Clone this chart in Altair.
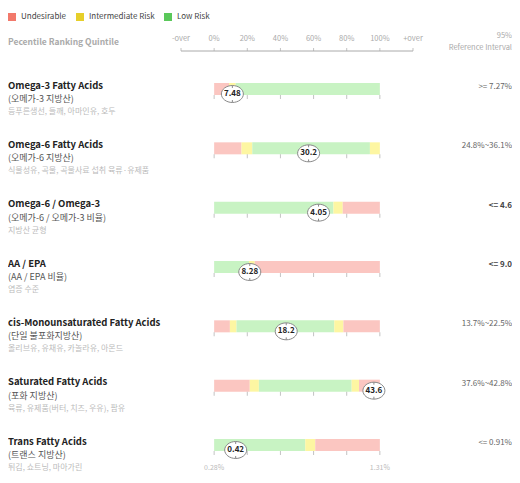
import altair as alt
import pandas as pd

FONT = "Noto Sans CJK KR"

# ---- data ----
names = ["Omega-3 Fatty Acids", "Omega-6 Fatty Acids", "Omega-6 / Omega-3", "AA / EPA",
         "cis-Monounsaturated Fatty Acids", "Saturated Fatty Acids", "Trans Fatty Acids"]
korean = ["(오메가-3 지방산)", "(오메가-6 지방산)", "(오메가-6 / 오메가-3 비율)", "(AA / EPA 비율)",
          "(단일 불포화지방산)", "(포화 지방산)", "(트랜스 지방산)"]
foods = ["등푸른생선, 들깨, 아마인유, 호두", "식물성유, 곡물, 곡물사료 섭취 육류·유제품", "지방산 균형",
         "염증 수준", "올리브유, 유채유, 카놀라유, 아몬드", "육류, 유제품(버터, 치즈, 우유), 팜유",
         "튀김, 쇼트닝, 마아가린"]
ref_interval = [">= 7.27%", "24.8%~36.1%", "<= 4.6", "<= 9.0", "13.7%~22.5%", "37.6%~42.8%", "<= 0.91%"]
ref_bold = [False, False, True, True, False, False, False]
value_labels = ["7.48", "30.2", "4.05", "8.28", "18.2", "43.6", "0.42"]
marker_pct = [11, 57, 63, 21.5, 43.5, 96.4, 13]

zones = ["Undesirable", "Intermediate Risk", "Low Risk"]
legend_colors = ["#f2796b", "#e6cf2a", "#5ac85a"]
bar_colors = ["#fbc6c1", "#fdf6a2", "#c8f3c3"]

# segment boundaries (percentile) and zone for each row
seg_bounds = [[0, 9, 13, 100],
              [0, 16.5, 23, 94, 100],
              [0, 72, 77.6, 100],
              [0, 21, 24.5, 100],
              [0, 9.5, 13.5, 72.5, 78, 100],
              [0, 21.5, 27, 83, 87.4, 100],
              [0, 55, 61, 100]]
seg_zones = [["Undesirable", "Intermediate Risk", "Low Risk"],
             ["Undesirable", "Intermediate Risk", "Low Risk", "Intermediate Risk"],
             ["Low Risk", "Intermediate Risk", "Undesirable"],
             ["Low Risk", "Intermediate Risk", "Undesirable"],
             ["Undesirable", "Intermediate Risk", "Low Risk", "Intermediate Risk", "Undesirable"],
             ["Undesirable", "Intermediate Risk", "Low Risk", "Intermediate Risk", "Undesirable"],
             ["Low Risk", "Intermediate Risk", "Undesirable"]]

axis_values = [-20, 0, 20, 40, 60, 80, 100, 120]
axis_labels = ["-over", "0%", "20%", "40%", "60%", "80%", "100%", "+over"]
row_ticks = [0, 20, 40, 60, 80, 100]
range_labels = ["0.28%", "1.31%"]
range_label_pct = [0, 100]

# ---- tables ----
seg_rows = []
for r, (b, z) in enumerate(zip(seg_bounds, seg_zones)):
    for i, zone in enumerate(z):
        seg_rows.append({"row": r, "start": b[i], "end": b[i + 1], "zone": zone})
segs = pd.DataFrame(seg_rows)
legend_df = pd.DataFrame({"risk": zones, "row": [0] * len(zones), "pct": [2] * len(zones)})

rows = pd.DataFrame({"row": list(range(len(names))), "name": names, "korean": korean,
                     "food": foods, "ref": ref_interval, "bold": ref_bold,
                     "val": value_labels, "pct": marker_pct})
ticks = pd.DataFrame([{"row": r, "pct": p} for r in range(len(names)) for p in row_ticks])
rng = pd.DataFrame({"row": [len(names) - 1] * 2, "pct": range_label_pct, "label": range_labels})
axis_df = pd.DataFrame({"v": axis_values, "label": axis_labels})
axis_line = pd.DataFrame({"a": [axis_values[0]], "b": [axis_values[-1]]})

X = alt.Scale(domain=[-20, 120], range=[173, 405], padding=0)
Y = alt.Scale(domain=[0, 6], range=[39, 395], padding=0)
y_enc = alt.Y("row:Q", scale=Y, axis=None)

# legend carrier (drawn first, hidden beneath the bars)
legend_layer = alt.Chart(legend_df).mark_square(size=20, opacity=1).encode(
    x=alt.X("pct:Q", scale=X, axis=None),
    y=y_enc,
    color=alt.Color("risk:N", scale=alt.Scale(domain=zones, range=legend_colors),
                    legend=alt.Legend(orient="none", legendX=-1, legendY=-38, direction="horizontal",
                                      title=None, symbolSize=64, symbolOpacity=1, labelFontSize=8,
                                      labelColor="#444", columnPadding=8, labelOffset=4)),
)

bars = alt.Chart(segs).mark_bar(orient="horizontal", size=12).encode(
    x=alt.X("start:Q", scale=X, axis=None),
    x2=alt.X2("end:Q"),
    y=y_enc,
    fill=alt.Fill("zone:N", scale=alt.Scale(domain=zones, range=bar_colors), legend=None),
)

# top percentile scale
top_rule = alt.Chart(axis_line).mark_rule(color="#aaa", strokeWidth=1).encode(
    x=alt.X("a:Q", scale=X, axis=None), x2=alt.X2("b:Q"), y=alt.value(1))
top_ticks = alt.Chart(axis_df).mark_tick(orient="vertical", size=3, thickness=1, color="#aaa").encode(
    x=alt.X("v:Q", scale=X, axis=None), y=alt.value(-0.5))
top_labels = alt.Chart(axis_df).mark_text(baseline="middle", fontSize=7.5, color="#aaa").encode(
    x=alt.X("v:Q", scale=X, axis=None), y=alt.value(-11), text="label:N")

tick_layer = alt.Chart(ticks).mark_tick(orient="vertical", size=4, thickness=1, yOffset=8,
                                        color="#aaa").encode(
    x=alt.X("pct:Q", scale=X, axis=None), y=y_enc)

ellipse = "M-1,0A1,0.77,0,1,1,1,0A1,0.77,0,1,1,-1,0Z M0,-0.77L0,-0.55 M0,0.77L0,0.55"
markers = alt.Chart(rows).mark_point(shape=ellipse, size=484, filled=True, fill="white",
                                     stroke="#888", strokeWidth=1, opacity=1, yOffset=5).encode(
    x=alt.X("pct:Q", scale=X, axis=None), y=y_enc)
marker_text = alt.Chart(rows).mark_text(fontSize=8, fontWeight="bold", color="#222",
                                        yOffset=5, baseline="middle").encode(
    x=alt.X("pct:Q", scale=X, axis=None), y=y_enc, text="val:N")

name_text = alt.Chart(rows).mark_text(align="left", baseline="middle", fontSize=9.5,
                                      fontWeight="bold", color="#222", yOffset=-3.5).encode(
    x=alt.value(0), y=y_enc, text="name:N")
kor_text = alt.Chart(rows).mark_text(align="left", baseline="middle", fontSize=9,
                                     color="#555", yOffset=10).encode(
    x=alt.value(0), y=y_enc, text="korean:N")
food_text = alt.Chart(rows).mark_text(align="left", baseline="middle", fontSize=8,
                                      color="#bbb", yOffset=23).encode(
    x=alt.value(0), y=y_enc, text="food:N")

ref_norm = alt.Chart(rows).transform_filter("!datum.bold").mark_text(
    align="right", baseline="middle", fontSize=8, color="#666", yOffset=-2).encode(
    x=alt.value(504), y=y_enc, text="ref:N")
ref_bold_t = alt.Chart(rows).transform_filter("datum.bold").mark_text(
    align="right", baseline="middle", fontSize=8, fontWeight="bold", color="#444", yOffset=-2
).encode(x=alt.value(504), y=y_enc, text="ref:N")

range_text = alt.Chart(rng).mark_text(baseline="middle", fontSize=7, color="#bbb",
                                      yOffset=23).encode(
    x=alt.X("pct:Q", scale=X, axis=None), y=y_enc, text="label:N")

hdr1 = alt.Chart(pd.DataFrame({"t": ["Pecentile Ranking Quintile"]})).mark_text(
    align="left", baseline="middle", fontSize=8.5, color="#aaa", fontWeight=600).encode(
    x=alt.value(0), y=alt.value(-8), text="t:N")
hdr2 = alt.Chart(pd.DataFrame({"t": ["95%"]})).mark_text(
    align="right", baseline="middle", fontSize=7.5, color="#aaa").encode(
    x=alt.value(504), y=alt.value(-14), text="t:N")
hdr3 = alt.Chart(pd.DataFrame({"t": ["Reference Interval"]})).mark_text(
    align="right", baseline="middle", fontSize=7.5, color="#aaa").encode(
    x=alt.value(504), y=alt.value(-2), text="t:N")

chart = alt.layer(
    legend_layer, bars, top_rule, top_ticks, top_labels, tick_layer, markers, marker_text,
    name_text, kor_text, food_text, ref_norm, ref_bold_t, range_text, hdr1, hdr2, hdr3
).properties(
    width=504, height=425,
    autosize=alt.AutoSizeParams(type="none"),
    padding={"left": 0, "top": 42, "right": 0, "bottom": 0},
).configure(font=FONT).configure_view(stroke=None).configure_legend(labelFont=FONT)

chart.save("out.html", embed_options={"renderer": "svg", "actions": False})
